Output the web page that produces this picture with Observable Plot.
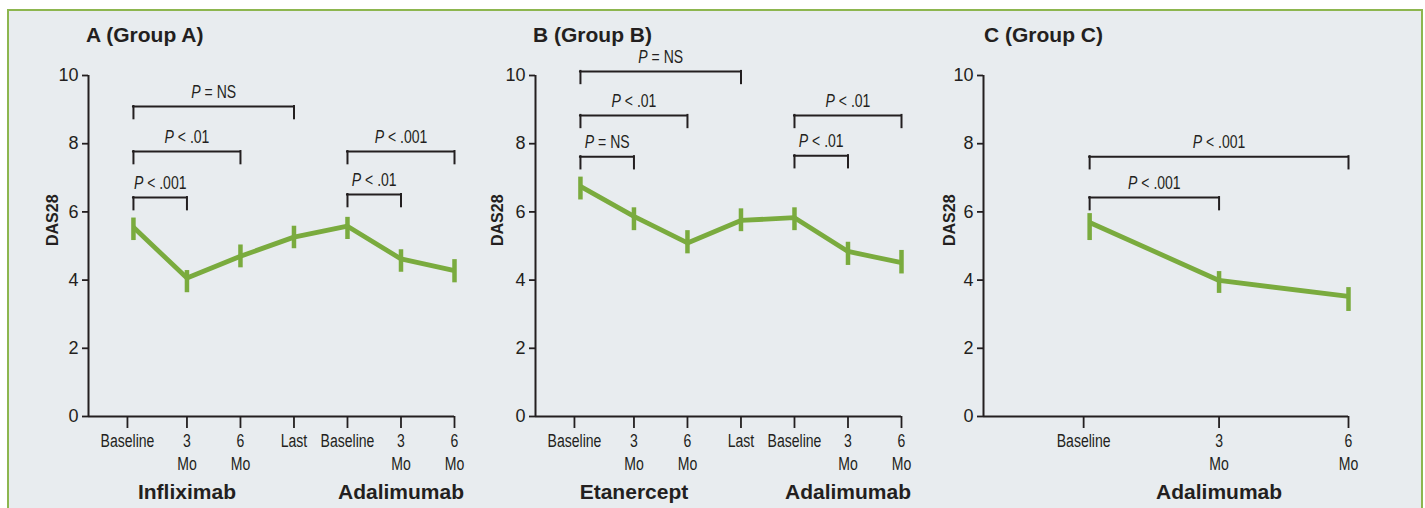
<!DOCTYPE html>
<html><head><meta charset="utf-8">
<script src="https://cdn.jsdelivr.net/npm/d3@7"></script>
<script src="https://cdn.jsdelivr.net/npm/@observablehq/plot@0.6"></script>
<style>
body{margin:0;background:#fff;width:1425px;height:508px;overflow:hidden;position:relative;font-family:"Liberation Sans",Arial,sans-serif}
#frame{position:absolute;left:7px;top:9px;width:1416px;height:520px;border:2px solid #8db64f;background:#e8ecef;box-sizing:border-box}
.title{position:absolute;top:24px;font-weight:bold;font-size:21px;color:#231f20;line-height:21px;white-space:nowrap}
svg g[aria-label="y-axis tick label"] text{font-size:18px;font-family:"Liberation Sans",Arial,sans-serif}
svg g[aria-label="x-axis tick label"] text{font-size:18px;font-family:"Liberation Sans",Arial,sans-serif}
</style></head>
<body><div id="frame"></div>
<script>
// ---- Panel A (Group A) ----
const aLabels = ["Baseline", "3\nMo", "6\nMo", "Last", "Baseline", "3\nMo", "6\nMo"];
const aMean = [5.55, 4.06, 4.70, 5.26, 5.58, 4.62, 4.28];
const aLo   = [5.16, 3.63, 4.36, 4.92, 5.19, 4.23, 3.92];
const aHi   = [5.82, 4.28, 5.03, 5.58, 5.84, 4.89, 4.60];
const aFrom  = [1, 1, 1, 5, 5];
const aTo    = [4, 3, 2, 7, 6];
const aLevel = [9.09, 7.77, 6.42, 7.77, 6.51];
const aText  = ["P = NS", "P < .01", "P < .001", "P < .001", "P < .01"];
const aGroups = ["Infliximab", "Adalimumab"];
const aGroupAt = [2, 6];

// ---- Panel B (Group B) ----
const bLabels = ["Baseline", "3\nMo", "6\nMo", "Last", "Baseline", "3\nMo", "6\nMo"];
const bMean = [6.75, 5.87, 5.09, 5.75, 5.83, 4.84, 4.51];
const bLo   = [6.35, 5.45, 4.77, 5.42, 5.45, 4.43, 4.18];
const bHi   = [7.02, 6.12, 5.45, 6.09, 6.12, 5.11, 4.87];
const bFrom  = [1, 1, 1, 5, 5];
const bTo    = [4, 3, 2, 7, 6];
const bLevel = [10.12, 8.83, 7.62, 8.83, 7.65];
const bText  = ["P = NS", "P < .01", "P = NS", "P < .01", "P < .01"];
const bGroups = ["Etanercept", "Adalimumab"];
const bGroupAt = [2, 6];

// ---- Panel C (Group C) ----
const cLabels = ["Baseline", "3\nMo", "6\nMo"];
const cMean = [5.69, 3.99, 3.52];
const cLo   = [5.16, 3.61, 3.08];
const cHi   = [5.95, 4.25, 3.78];
const cFrom  = [1, 1];
const cTo    = [3, 2];
const cLevel = [7.62, 6.42];
const cText  = ["P < .001", "P < .001"];
const cGroups = ["Adalimumab"];
const cGroupAt = [2];

const yTicks = [0, 2, 4, 6, 8, 10];
const GREEN = "#7aab3e", INK = "#231f20";
const SANS = '"Liberation Sans",Arial,sans-serif';
const SVGNS = "http://www.w3.org/2000/svg";

function condense(el, k) {
  const w = el.getComputedTextLength();
  if (w > 0) {
    el.setAttribute("textLength", (w * k).toFixed(2));
    el.setAttribute("lengthAdjust", "spacingAndGlyphs");
  }
}

function panel(o) {
  const n = o.labels.length;
  const pts = o.labels.map((l, i) => ({x: i + 1, mean: o.mean[i], lo: o.lo[i], hi: o.hi[i]}));
  const br = o.from.map((f, i) => ({x1: f, x2: o.to[i], y: o.level[i], text: o.text[i]}));
  const drops = br.flatMap(b => [{x: b.x1, y: b.y}, {x: b.x2, y: b.y}]);
  const grp = o.groups.map((g, i) => ({x: o.groupAt[i], text: g}));
  const ticksRest = d3.range(2, n + 1);
  const chart = Plot.plot({
    width: o.width, height: 508,
    marginLeft: o.marginLeft, marginRight: o.marginRight, marginTop: 75, marginBottom: 92,
    style: {background: "transparent", fontFamily: SANS, fontSize: "17px", color: INK, overflow: "visible"},
    x: {domain: [o.start, n], axis: null},
    y: {domain: [0, 10], axis: null},
    marks: [
      Plot.axisY({ticks: yTicks, tickSize: 6, tickPadding: 4, label: null, fontSize: 18, strokeWidth: 1.8}),
      Plot.ruleX([o.start], {stroke: INK, strokeWidth: 2}),
      Plot.ruleY([0], {stroke: INK, strokeWidth: 2}),
      Plot.axisX({ticks: [1], tickSize: 12, tickPadding: 6, tickFormat: i => o.labels[i - 1], dx: -6, label: null, fontSize: 18, strokeWidth: 1.8}),
      Plot.axisX({ticks: ticksRest, tickSize: 12, tickPadding: 3, tickFormat: i => o.labels[i - 1], lineHeight: 1.25, label: null, fontSize: 18, strokeWidth: 1.8}),
      Plot.ruleY(br, {y: "y", x1: "x1", x2: "x2", stroke: INK, strokeWidth: 2, strokeLinecap: "square"}),
      Plot.ruleX(drops, {x: "x", y1: "y", y2: d => d.y - 0.36, stroke: INK, strokeWidth: 2, strokeLinecap: "square"}),
      Plot.text(br, {x: d => (d.x1 + d.x2) / 2, y: "y", text: "text", dy: -14, fontSize: 17.5, fill: INK}),
      Plot.ruleX(pts, {x: "x", y1: "lo", y2: "hi", stroke: GREEN, strokeWidth: 4.5}),
      Plot.line(pts, {x: "x", y: "mean", stroke: GREEN, strokeWidth: 4.8, strokeLinecap: "butt", strokeLinejoin: "miter"}),
      Plot.text(grp, {x: "x", y: () => 0, text: "text", dy: 76, fontSize: 21, fontWeight: "bold", fill: INK}),
      Plot.text(["DAS28"], {frameAnchor: "left", rotate: -90, dx: o.ylabelDx, fontSize: 16, fontWeight: "bold", fill: INK})
    ]
  });
  chart.style.position = "absolute";
  chart.style.left = o.left + "px";
  chart.style.top = "0px";
  document.body.appendChild(chart);

  // italic P in p-value annotations, condensed face
  chart.querySelectorAll('g[aria-label="text"] text').forEach(t => {
    const s = t.textContent;
    if (s.startsWith("P ")) {
      t.textContent = "";
      const a = document.createElementNS(SVGNS, "tspan");
      a.setAttribute("font-style", "italic");
      a.textContent = "P";
      const b = document.createElementNS(SVGNS, "tspan");
      b.textContent = s.slice(1);
      t.append(a, b);
      condense(t, 0.8);
    }
  });
  // condensed x tick labels
  chart.querySelectorAll('g[aria-label="x-axis tick label"] text').forEach(t => {
    const spans = t.querySelectorAll("tspan");
    if (spans.length) spans.forEach(sp => condense(sp, 0.78));
    else condense(t, 0.78);
  });

  const tt = document.createElement("div");
  tt.className = "title";
  tt.textContent = o.title;
  tt.style.left = o.titleLeft + "px";
  document.body.appendChild(tt);
}

panel({title: "A (Group A)", titleLeft: 86, labels: aLabels, mean: aMean, lo: aLo, hi: aHi, from: aFrom, to: aTo, level: aLevel, text: aText,
  groups: aGroups, groupAt: aGroupAt, left: 0, width: 475, marginLeft: 88, marginRight: 21, start: 0.16, ylabelDx: -36});
panel({title: "B (Group B)", titleLeft: 533, labels: bLabels, mean: bMean, lo: bLo, hi: bHi, from: bFrom, to: bTo, level: bLevel, text: bText,
  groups: bGroups, groupAt: bGroupAt, left: 475, width: 455, marginLeft: 60, marginRight: 29, start: 0.16, ylabelDx: -38});
panel({title: "C (Group C)", titleLeft: 984, labels: cLabels, mean: cMean, lo: cLo, hi: cHi, from: cFrom, to: cTo, level: cLevel, text: cText,
  groups: cGroups, groupAt: cGroupAt, left: 930, width: 495, marginLeft: 53, marginRight: 77, start: 0.18, ylabelDx: -34});
</script></body></html>
